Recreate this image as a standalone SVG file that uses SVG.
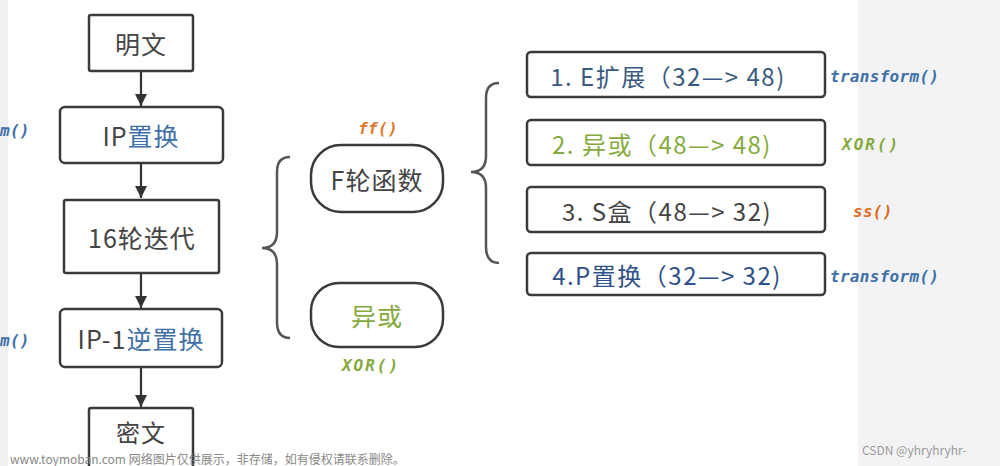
<svg xmlns="http://www.w3.org/2000/svg" width="1000" height="466" viewBox="0 0 1000 466">
<defs>
<marker id="ah" viewBox="0 0 12 12" refX="12" refY="6" markerWidth="12" markerHeight="12" markerUnits="userSpaceOnUse" orient="auto">
<path d="M0,0 L12,6 L0,12 Z" fill="#333"/>
</marker>
<style>
.box{fill:#fff;stroke:#3a3a3a;stroke-width:2.5}
.t{font-family:"Noto Sans CJK SC","Noto Sans",sans-serif;font-size:25px;fill:#444;text-anchor:middle;dominant-baseline:central;letter-spacing:1px}
.r{font-size:24px;letter-spacing:1.5px}
.blue{fill:#3f70a8}
.green{fill:#86aa3e}
.code{font-family:"DejaVu Sans Mono",monospace;font-style:italic;font-weight:bold;font-size:16px;letter-spacing:0.3px}
.conn{stroke:#333;stroke-width:2.2;fill:none}
.br{stroke:#555;stroke-width:2.5;fill:none}
.wm{font-family:"Noto Sans CJK SC","Noto Sans",sans-serif;font-size:12px;fill:#888}
</style>
</defs>
<rect x="0" y="0" width="1000" height="466" fill="#fff"/>
<rect x="0" y="0" width="8" height="466" fill="#f0f0f2"/>
<rect x="858" y="0" width="142" height="466" fill="#f3f3f5"/>

<g id="connectors">
<line class="conn" x1="141" y1="71" x2="141" y2="106" marker-end="url(#ah)"/>
<line class="conn" x1="141" y1="163" x2="141" y2="198" marker-end="url(#ah)"/>
<line class="conn" x1="141" y1="273" x2="141" y2="308" marker-end="url(#ah)"/>
<line class="conn" x1="141" y1="367" x2="141" y2="407" marker-end="url(#ah)"/>
<path class="br" d="M290,157 Q277,157 277,172 L277,232 Q277,248 262,248 Q277,248 277,264 L277,322 Q277,338 290,338"/>
<path class="br" d="M499,83 Q486,83 486,98 L486,156 Q486,172 471,172 Q486,172 486,188 L486,247 Q486,263 499,263"/>
</g>

<g id="mingwen">
<rect class="box" x="89" y="15" width="104" height="56" rx="2"/>
<text class="t" x="141" y="43">明文</text>
</g>
<g id="ip">
<rect class="box" x="60" y="107" width="163" height="56" rx="5"/>
<text class="t" x="141" y="135">IP<tspan class="blue">置换</tspan></text>
<text class="code blue" x="0" y="136">m()</text>
</g>
<g id="round16">
<rect class="box" x="64" y="200" width="155" height="73" rx="2"/>
<text class="t" x="142" y="237">16轮迭代</text>
</g>
<g id="ipinv">
<rect class="box" x="60" y="309" width="162" height="58" rx="5"/>
<text class="t" x="141" y="338">IP-1<tspan class="blue">逆置换</tspan></text>
<text class="code blue" x="0" y="346">m()</text>
</g>
<g id="miwen">
<rect class="box" x="89" y="408" width="104" height="70" rx="2"/>
<text class="t" x="141" y="431" style="font-size:24px">密文</text>
</g>

<g id="ffunc">
<rect class="box" x="311" y="145" width="132" height="67" rx="30"/>
<text class="t" x="377" y="179">F轮函数</text>
<text class="code" x="378" y="134" fill="#e07a2a" text-anchor="middle" font-size="18">ff()</text>
</g>
<g id="xor">
<rect class="box" x="311" y="283" width="132" height="64" rx="28"/>
<text class="t green" x="377" y="315">异或</text>
<text class="code green" x="371" y="371" text-anchor="middle" font-weight="normal" style="letter-spacing:2px">XOR()</text>
</g>

<g id="e-ext">
<rect class="box" x="527" y="52" width="298" height="45" rx="4"/>
<text class="t r" x="668" y="75" style="fill:#3a5a80">1. E扩展（32—&gt; 48)</text>
<text class="code blue" x="830" y="82">transform()</text>
</g>
<g id="xor2">
<rect class="box" x="527" y="120" width="298" height="45" rx="4"/>
<text class="t r green" x="662" y="143">2. 异或（48—&gt; 48)</text>
<text class="code green" x="842" y="150" font-weight="normal" style="letter-spacing:2px">XOR()</text>
</g>
<g id="sbox">
<rect class="box" x="527" y="187" width="298" height="45" rx="4"/>
<text class="t r" x="667" y="210">3. S盒（48—&gt; 32)</text>
<text class="code" x="853" y="217" fill="#e06a20" font-size="17">ss()</text>
</g>
<g id="pperm">
<rect class="box" x="527" y="253" width="298" height="42" rx="4"/>
<text class="t r" x="667" y="274" style="fill:#2f5088">4.P置换（32—&gt; 32)</text>
<text class="code blue" x="830" y="282">transform()</text>
</g>

<text class="wm" x="10" y="464">www.toymoban.com 网络图片仅供展示，非存储，如有侵权请联系删除。</text>
<text class="wm" x="862" y="455" style="fill:#999">CSDN @yhryhryhr-</text>
</svg>
